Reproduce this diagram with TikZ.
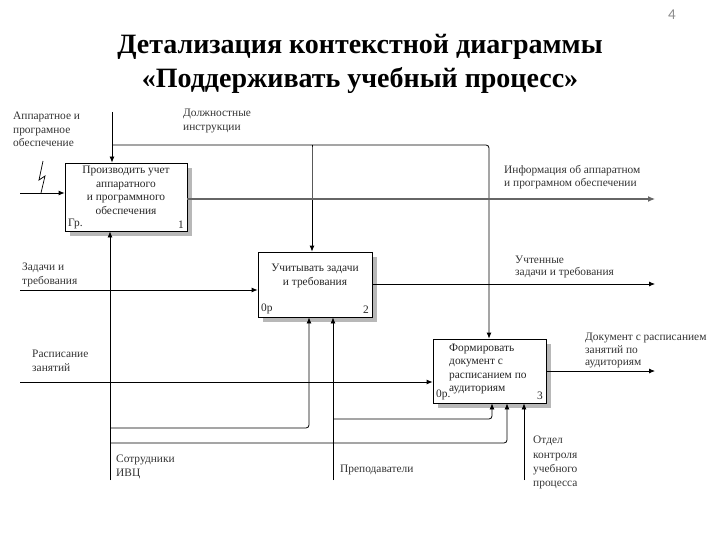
\documentclass[tikz,border=0pt]{standalone}
\usepackage{fontspec}
\setmainfont{Liberation Serif}
\newfontfamily\numfont{Carlito}
\usetikzlibrary{shadows,arrows.meta}
\begin{document}
\begin{tikzpicture}[x=1pt,y=-1pt,
  func/.style={draw=black, line width=0.8pt, fill=white, rectangle, inner sep=0pt,
    drop shadow={shadow xshift=5pt, shadow yshift=-5pt, fill=black!28, opacity=1}},
  arr/.style={-{Latex[length=6pt,width=5pt]}, line width=0.8pt, black},
  rc/.style={rounded corners=3pt},
  lbl/.style={font=\fontsize{11.4}{13.5}\selectfont, text=black!80, align=left, anchor=north west, inner sep=0pt},
  btxt/.style={font=\fontsize{11.4}{13.5}\selectfont, text=black!85, inner sep=0pt},
  ttl/.style={font=\bfseries\fontsize{28}{33.5}\selectfont, align=center}]
\useasboundingbox (0,0) rectangle (720,540);
% title
\node[ttl] (title) at (360,64) {Детализация контекстной диаграммы\\«Поддерживать учебный процесс»};
\node[font=\numfont\fontsize{15}{15}\selectfont, text=black!45] (pnum) at (672,15) {4};
% boxes
\node[func, minimum width=122pt, minimum height=68pt] (b1) at (126,197) {};
\node[func, minimum width=114pt, minimum height=65pt] (b2) at (315,284.5) {};
\node[func, minimum width=113pt, minimum height=64pt] (b3) at (489.5,371) {};
% box texts
\node[btxt, align=center, anchor=north] (t1) at (126,166) {Производить учет\\аппаратного\\и программного\\обеспечения};
\node[btxt, anchor=south west] (t1a) at (68,229) {Гр.};
\node[btxt, anchor=south east] (t1b) at (184,229) {1};
\node[btxt, align=center, anchor=north] (t2) at (315,264) {Учитывать задачи\\и требования};
\node[btxt, anchor=south west] (t2a) at (261,314) {0р};
\node[btxt, anchor=south east] (t2b) at (369,314) {2};
\node[btxt, align=left, anchor=north west] (t3) at (449,343.5) {Формировать\\документ с\\расписанием по\\аудиториям};
\node[btxt, anchor=south west] (t3a) at (436,400) {0р.};
\node[btxt, anchor=south east] (t3b) at (543,400) {3};
% labels
\node[lbl] (l1) at (13,112) {Аппаратное и\\програмное\\обеспечение};
\node[lbl] (l2) at (183,109) {Должностные\\инструкции};
\node[lbl] (l3) at (504,165) {Информация об аппаратном\\и програмном обеспечении};
\node[lbl] (l4) at (22,263) {Задачи и\\требования};
\node[lbl, font=\fontsize{11.4}{11.5}\selectfont] (l5) at (515,256) {Учтенные\\задачи и требования};
\node[lbl] (l6) at (32,350) {Расписание\\занятий};
\node[lbl, font=\fontsize{11.4}{12.5}\selectfont] (l7) at (585,333) {Документ с расписанием\\занятий по\\аудиториям};
\node[lbl] (l8) at (116,455) {Сотрудники\\ИВЦ};
\node[lbl] (l9) at (340,465) {Преподаватели};
\node[lbl, font=\fontsize{11.4}{14.3}\selectfont] (l10) at (533,436) {Отдел\\контроля\\учебного\\процесса};
% coordinates
\coordinate (c0) at (112,112);
\coordinate (cb) at (112,145);
\coordinate (cx2) at (312,145);
\coordinate (cx3) at (489,145);
\coordinate (i1) at (20,193);
\coordinate (o1) at (655,199);
\coordinate (i2) at (20,290);
\coordinate (o2) at (655,284);
\coordinate (i3) at (20,382);
\coordinate (o3) at (655,371);
\coordinate (m1) at (110,480);
\coordinate (m2) at (333,480);
\coordinate (m3) at (524,480);
% controls
\draw[arr] (c0) -- (b1.north -| c0);
\draw[arr, rc] (c0 |- cb) -- (cx3) -- (b3.north -| cx3);
\draw[arr, rc] (cb -| cx2) -- ++(0,3) -- (b2.north -| cx2);
% inputs
\draw[arr] (i1) -- (b1.west |- i1);
\draw[line width=0.7pt] (43,161) -- (39,180) -- (45,176) -- (41,193);
\draw[arr] (i2) -- (b2.west |- i2);
\draw[arr] (i3) -- (b3.west |- i3);
% outputs
\draw[-{Latex[length=7pt,width=6pt]}, draw=black!60, line width=1.2pt] (b1.east |- o1) -- (o1);
\draw[arr] (b2.east |- o2) -- (o2);
\draw[arr] (b3.east |- o3) -- (o3);
% mechanisms
\draw[arr] (m1) -- (b1.south -| m1);
\draw[arr, rc] (110,428) -| (b2.south -| 309,0);
\draw[arr, rc] (110,443) -| (b3.south -| 507,0);
\draw[arr] (m2) -- (b2.south -| m2);
\draw[arr, rc] (333,419) -| (b3.south -| 492,0);
\draw[arr] (m3) -- (b3.south -| m3);
\end{tikzpicture}
\end{document}
